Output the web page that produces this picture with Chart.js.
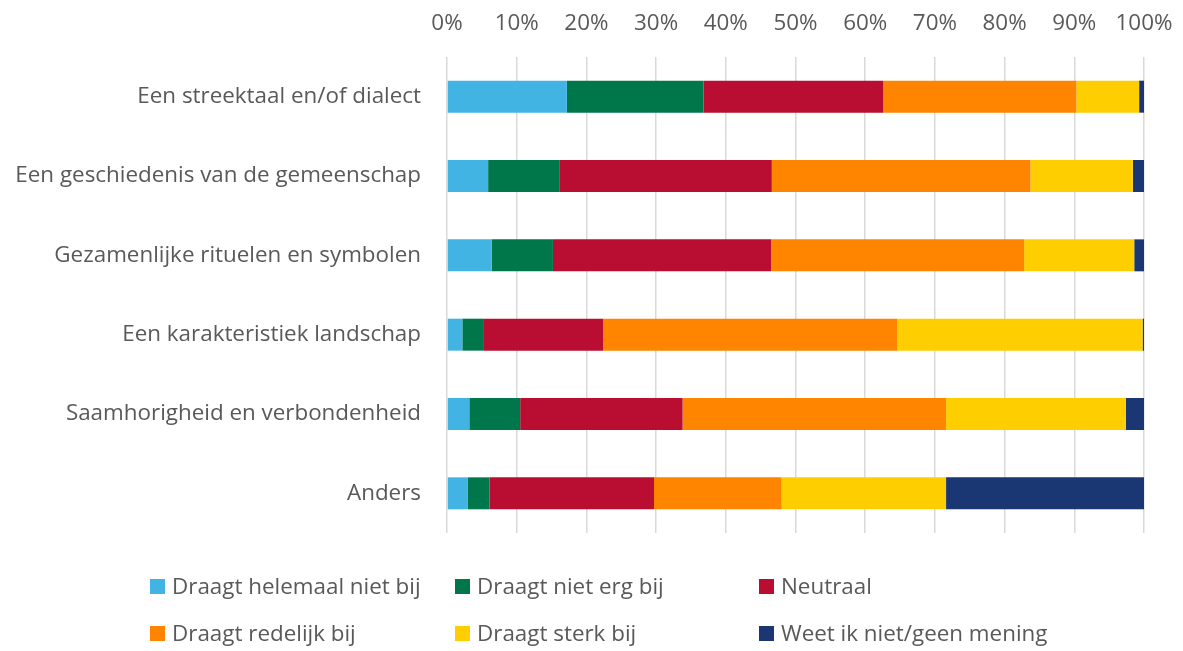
<!DOCTYPE html>
<html>
<head>
<meta charset="utf-8">
<script src="https://cdn.jsdelivr.net/npm/chart.js@4/dist/chart.umd.min.js"></script>
<style>
  html, body { margin:0; padding:0; background:#fff; }
  #wrap { position:relative; width:1183px; height:651px; }
  #c { position:absolute; left:0; top:0; }
  .lg { position:absolute; font-family:"Open Sans", sans-serif; font-size:22.4px; color:#595959; white-space:nowrap; line-height:26px; }
  .lg span.box { display:inline-block; width:15px; height:15px; margin-right:7px; vertical-align:0px; }
</style>
</head>
<body>
<div id="wrap">
  <canvas id="c" width="1183" height="651"></canvas>
  <div id="legend"></div>
</div>
<script>
const categories = [
  "Een streektaal en/of dialect",
  "Een geschiedenis van de gemeenschap",
  "Gezamenlijke rituelen en symbolen",
  "Een karakteristiek landschap",
  "Saamhorigheid en verbondenheid",
  "Anders"
];
const seriesNames = [
  "Draagt helemaal niet bij",
  "Draagt niet erg bij",
  "Neutraal",
  "Draagt redelijk bij",
  "Draagt sterk bij",
  "Weet ik niet/geen mening"
];
const helemaalNiet = [17.2, 5.9, 6.4, 2.2, 3.2, 3.0];
const nietErg      = [19.6, 10.2, 8.8, 3.1, 7.3, 3.1];
const neutraal     = [25.8, 30.5, 31.3, 17.1, 23.3, 23.6];
const redelijk     = [27.7, 37.1, 36.3, 42.2, 37.8, 18.3];
const sterk        = [9.0, 14.7, 15.8, 35.2, 25.8, 23.6];
const weetNiet     = [0.7, 1.6, 1.4, 0.2, 2.6, 28.4];
const xTicks = [0,10,20,30,40,50,60,70,80,90,100];

const colors = ["#42B4E4", "#00774A", "#B90E31", "#FF8400", "#FFCE00", "#1B3773"];
const seriesData = [helemaalNiet, nietErg, neutraal, redelijk, sterk, weetNiet];

const textColor = "#595959";
const fontFam = "'Open Sans', sans-serif";

new Chart(document.getElementById('c'), {
  type: 'bar',
  data: {
    labels: categories,
    datasets: seriesNames.map((n, i) => ({
      label: n,
      data: seriesData[i],
      backgroundColor: colors[i],
      borderWidth: 0,
      barPercentage: 0.403,
      categoryPercentage: 1.0
    }))
  },
  options: {
    indexAxis: 'y',
    responsive: false,
    animation: false,
    layout: { padding: { top: 0, right: 39, bottom: 118, left: 0 } },
    plugins: { legend: { display: false }, tooltip: { enabled: false } },
    scales: {
      x: {
        position: 'top',
        stacked: true,
        min: 0, max: 100,
        afterBuildTicks: (s) => { s.ticks = xTicks.map(v => ({ value: v })); },
        afterFit: (s) => { s.height = 57; s.paddingLeft = 0; s.paddingRight = 0; },
        grid: { color: '#D9D9D9', lineWidth: 1.5, drawTicks: false },
        border: { display: false },
        ticks: {
          padding: 20,
          color: textColor,
          font: { family: fontFam, size: 22.4 },
          callback: (v) => v + '%'
        }
      },
      y: {
        stacked: true,
        afterFit: (s) => { s.width = 447; },
        grid: { display: false, drawTicks: false },
        border: { display: false },
        ticks: {
          padding: 26,
          color: textColor,
          font: { family: fontFam, size: 22.4 }
        }
      }
    }
  }
});

// legend laid out in a 3-column grid as in the reference
const lg = document.getElementById('legend');
const colX = [150, 455, 759];
const rowY = [573, 620];
seriesNames.forEach((n, i) => {
  const d = document.createElement('div');
  d.className = 'lg';
  d.style.left = colX[i % 3] + 'px';
  d.style.top = rowY[Math.floor(i / 3)] + 'px';
  d.innerHTML = '<span class="box" style="background:' + colors[i] + '"></span>' + n;
  lg.appendChild(d);
});
</script>
</body>
</html>
